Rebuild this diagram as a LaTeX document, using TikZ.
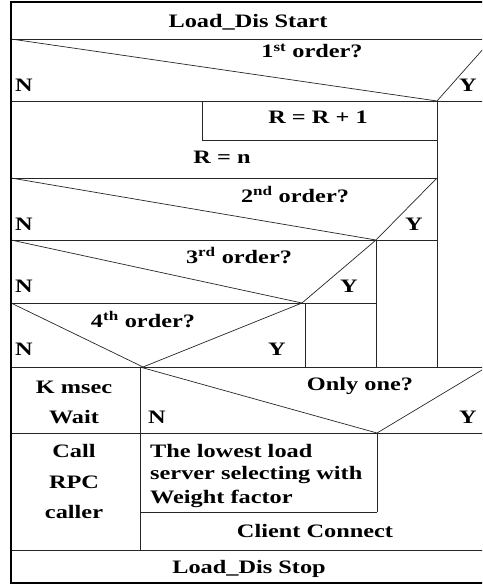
\documentclass[tikz,border=0pt]{standalone}
\usepackage{fontspec}
\setmainfont{Liberation Serif}[FakeStretch=1.28]
\usepackage{tikz}
\tikzset{
  frm/.style={line width=2pt,black},
  ln/.style={line width=0.7pt,black!85},
  lbl/.style={font=\fontsize{19}{23}\selectfont\bfseries,anchor=base,inner sep=0pt},
  lbll/.style={lbl,anchor=base west}
}
\begin{document}
\begin{tikzpicture}[x=1pt,y=-1pt]
\useasboundingbox (0,0) rectangle (482,586);
\clip (0,0) rectangle (482,586);
\fill[white] (0,0) rectangle (482,586);
% row separators
\draw[ln] (11,39)--(495,39) (11,101)--(495,101) (11,367)--(495,367) (11,433)--(495,433) (11,550)--(495,550);
\draw[ln] (202,140)--(437,140) (11,178)--(437,178) (11,240)--(437,240) (11,303)--(376,303) (140,512)--(377,512);
% verticals
\draw[ln] (437,101)--(437,367) (202,101)--(202,140) (376,240)--(376,367) (305,303)--(305,367);
\draw[ln] (140,367)--(140,550) (377,433)--(377,512);
% decisions
\draw[ln] (11,39)--(437,101)--(492,39);
\draw[ln] (11,178)--(376,240)--(437,178);
\draw[ln] (11,240)--(302,303)--(376,240);
\draw[ln] (11,303)--(143,367)--(302,303);
\draw[ln] (140,367)--(377,433)--(487,367);
% frame
\draw[frm] (495,2)--(11,2)--(11,583)--(495,583);
% texts
\node[lbl] (start) at (248,28) {Load\_Dis Start};
\node[lbl] (q1) at (312,58) {1\textsuperscript{st} order?};
\node[lbll] (n1) at (15,91) {N};
\node[lbll] (y1) at (459,91) {Y};
\node[lbl] (inc) at (318,123) {R = R + 1};
\node[lbl] (set) at (222,163) {R = n};
\node[lbl] (q2) at (295,202) {2\textsuperscript{nd} order?};
\node[lbll] (n2) at (15,230) {N};
\node[lbll] (y2) at (405,230) {Y};
\node[lbl] (q3) at (239,263) {3\textsuperscript{rd} order?};
\node[lbll] (n3) at (15,292) {N};
\node[lbll] (y3) at (340,292) {Y};
\node[lbl] (q4) at (143,327) {4\textsuperscript{th} order?};
\node[lbll] (n4) at (15,355) {N};
\node[lbll] (y4) at (268,355) {Y};
\node[lbl] (kms) at (74,393) {K msec};
\node[lbl] (wait) at (74,423) {Wait};
\node[lbl] (q5) at (360,390) {Only one?};
\node[lbll] (n5) at (148,423) {N};
\node[lbll] (y5) at (459,423) {Y};
\node[lbl] (call) at (74,457) {Call};
\node[lbl] (rpc) at (74,488) {RPC};
\node[lbl] (caller) at (74,518) {caller};
\node[lbll] (sel1) at (150,457) {The lowest load};
\node[lbll] (sel2) at (150,479) {server selecting with};
\node[lbll] (sel3) at (150,503) {Weight factor};
\node[lbl] (conn) at (315,537) {Client Connect};
\node[lbl] (stop) at (249,573) {Load\_Dis Stop};
\end{tikzpicture}
\end{document}
